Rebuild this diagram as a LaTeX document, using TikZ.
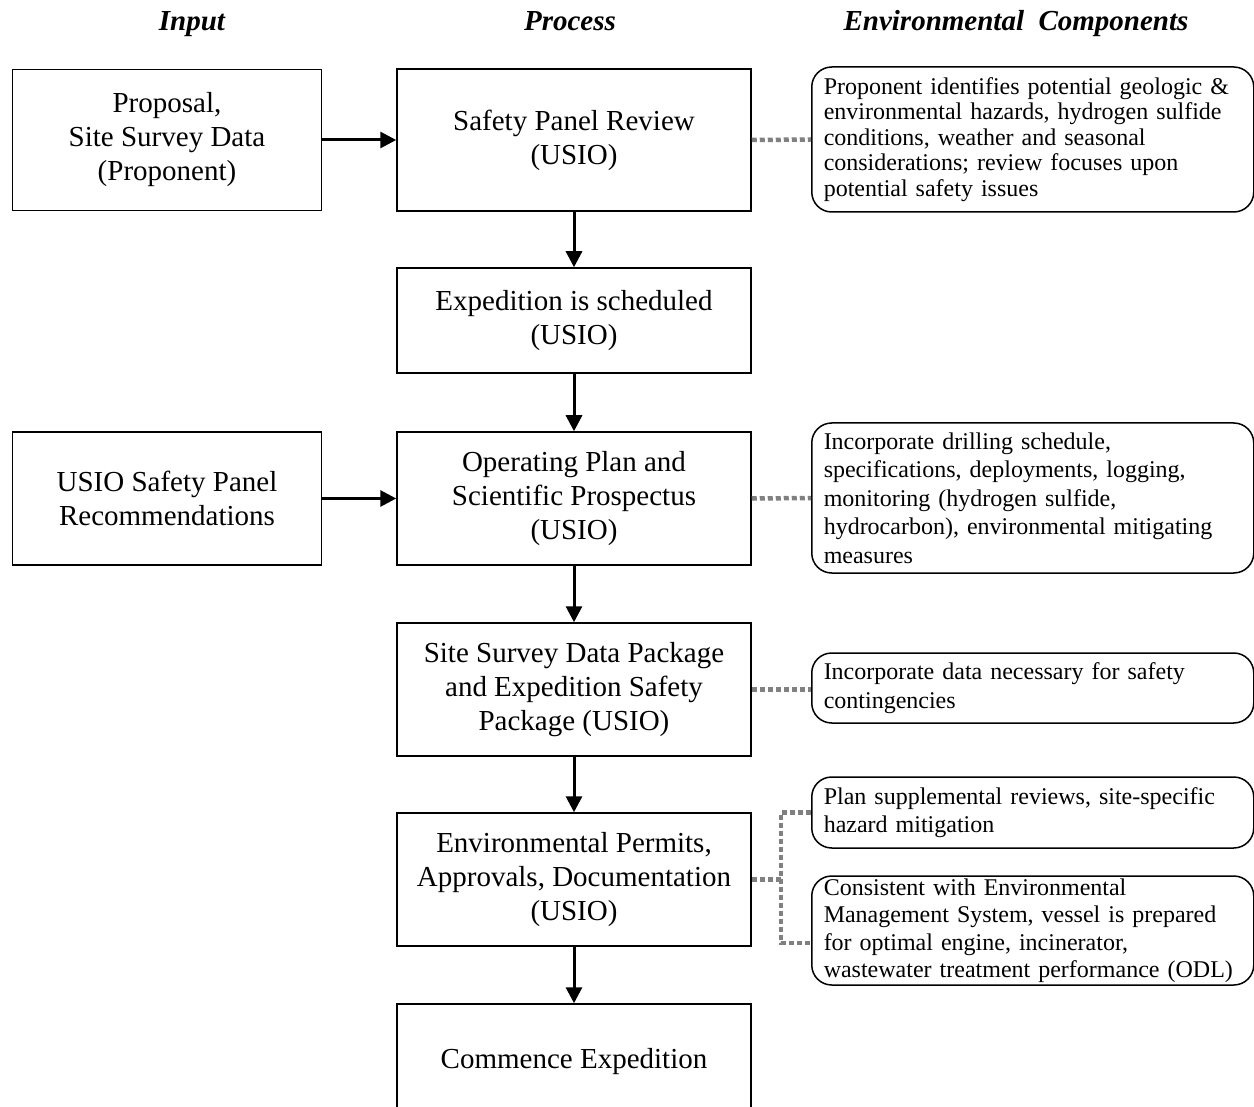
\documentclass[tikz,border=0pt]{standalone}
\usepackage{fontspec}
\setmainfont{Liberation Serif}
\usepackage{tikz}
\usetikzlibrary{arrows.meta}
\tikzstyle{flowhead}=[>/.tip={Triangle[length=16pt,width=16pt]}]
\tikzstyle{fl}=[line width=3pt,flowhead,->]
\tikzstyle{lk}=[line width=4.5pt,gray,dash pattern=on 5pt off 3pt]
\tikzstyle{hd}=[anchor=base,font=\fontsize{29}{34}\selectfont\bfseries\itshape]
\tikzstyle{blk}=[draw,line width=1.5pt,align=center,inner sep=0pt,font=\fontsize{29}{34}\selectfont]
\tikzstyle{env}=[draw,line width=1.5pt,rounded corners=20pt,anchor=west,align=left,text width=418pt,inner xsep=12pt,inner ysep=0pt,font=\fontsize{24}{28.5}\selectfont]

\begin{document}
\begin{tikzpicture}[x=1pt,y=-1pt]
	\useasboundingbox (0,0) rectangle (1254,1107);
	% column heads
	\node[hd] (hin)  at (192,31)  {Input};
	\node[hd] (hpr)  at (570,31)  {Process};
	\node[hd] (henv) at (1016,31) {Environmental\ \ Components};
	% input
	\node[blk,minimum width=309pt,minimum height=141pt] (prop) at (167,140) {Proposal,\\Site Survey Data\\(Proponent)};
	\node[blk,minimum width=309pt,minimum height=133pt] (rec)  at (167,498.5) {USIO Safety Panel\\Recommendations};
	% process
	\node[blk,minimum width=354pt,minimum height=142pt] (spr)  at (574,140) {Safety Panel Review\\(USIO)};
	\node[blk,minimum width=354pt,minimum height=105pt] (sch)  at (574,320.5) {Expedition is scheduled\\(USIO)};
	\node[blk,minimum width=354pt,minimum height=133pt] (opl)  at (574,498.5) {Operating Plan and\\Scientific Prospectus\\(USIO)};
	\node[blk,minimum width=354pt,minimum height=133pt] (pkg)  at (574,689.5) {Site Survey Data Package\\and Expedition Safety\\Package (USIO)};
	\node[blk,minimum width=354pt,minimum height=133pt] (perm) at (574,879.5) {Environmental Permits,\\Approvals, Documentation\\(USIO)};
	\node[blk,minimum width=354pt,minimum height=116pt] (com)  at (574,1062) {Commence Expedition};
	% environmental components
	\node[env,minimum height=145pt,font=\fontsize{24}{25.5}\selectfont] (haz) at (811,139.5) {Proponent identifies potential geologic \&\\environmental hazards, hydrogen sulfide\\conditions, weather and seasonal\\considerations; review focuses upon\\potential safety issues};
	\node[env,minimum height=150pt] (mon) at (811,498) {Incorporate drilling schedule,\\specifications, deployments, logging,\\monitoring (hydrogen sulfide,\\hydrocarbon), environmental mitigating\\measures};
	\node[env,minimum height=70pt]  (cont) at (811,688) {Incorporate data necessary for safety\\contingencies};
	\node[env,minimum height=71pt]  (sup) at (811,812.5) {Plan supplemental reviews, site-specific\\hazard mitigation};
	\node[env,minimum height=109pt,font=\fontsize{24}{27.5}\selectfont] (ves) at (811,930.5) {Consistent with Environmental\\Management System, vessel is prepared\\for optimal engine, incinerator,\\wastewater treatment performance (ODL)};
	% flow
	\draw[fl] (prop) -- (spr);
	\draw[fl] (rec) -- (opl);
	\draw[fl] (spr) -- (sch);
	\draw[fl] (sch) -- (opl);
	\draw[fl] (opl) -- (pkg);
	\draw[fl] (pkg) -- (perm);
	\draw[fl] (perm) -- (com);
	% links
	\draw[lk] (spr.east) -- (haz.west);
	\draw[lk] (opl.east) -- (mon.west);
	\draw[lk] (pkg.east) -- (cont.west |- pkg.east);
	\coordinate (fk) at (781,879.5);
	\draw[lk] (perm.east) -- (fk);
	\draw[lk] (sup.west) -| (fk) |- ([yshift=-12.5pt]ves.west);
\end{tikzpicture}
\end{document}
